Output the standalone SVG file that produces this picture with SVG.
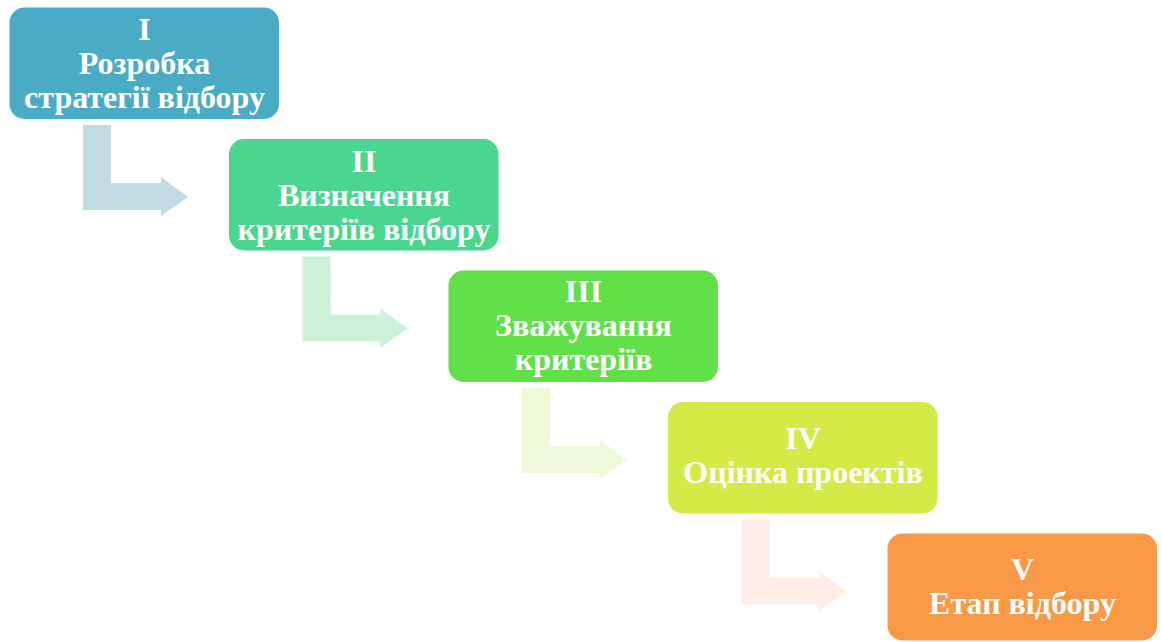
<svg xmlns="http://www.w3.org/2000/svg" width="1162" height="642" viewBox="0 0 1162 642">
<style>
.t{font-family:"Liberation Serif","Times New Roman",serif;font-weight:bold;font-size:32px;fill:#ffffff;text-anchor:middle}
</style>
<defs>
<path id="arr" d="M0,0 H28 V58 H78 V52 L105,72 L78,91 V85 H0 Z"/>
</defs>
<rect width="1162" height="642" fill="#ffffff"/>
<g id="connectors">
<use href="#arr" x="83" y="125" fill="#c1dbe3"/>
<use href="#arr" x="302.5" y="256.5" fill="#cdf0d9"/>
<use href="#arr" x="522" y="388" fill="#eff9da"/>
<use href="#arr" x="741.5" y="519.5" fill="#fcede6"/>
</g>
<g id="node1">
<rect x="9.5" y="7.5" width="269.5" height="111.5" rx="15" fill="#4aabc5"/>
<text class="t" x="144.5" y="40">I</text>
<text class="t" x="144.5" y="74">Розробка</text>
<text class="t" x="144.5" y="108">стратегії відбору</text>
</g>
<g id="node2">
<rect x="229" y="139" width="269.5" height="111.5" rx="15" fill="#4ad68f"/>
<text class="t" x="364" y="171.5">II</text>
<text class="t" x="364" y="205.5">Визначення</text>
<text class="t" x="364" y="239.5">критеріїв відбору</text>
</g>
<g id="node3">
<rect x="448.5" y="270.5" width="269.5" height="111.5" rx="15" fill="#62e04a"/>
<text class="t" x="583.5" y="302">III</text>
<text class="t" x="583.5" y="336">Зважування</text>
<text class="t" x="583.5" y="370">критеріїв</text>
</g>
<g id="node4">
<rect x="668" y="402" width="269.5" height="111.5" rx="15" fill="#d4ea46"/>
<text class="t" x="803" y="449">IV</text>
<text class="t" x="803" y="483">Оцінка проектів</text>
</g>
<g id="node5">
<rect x="887.5" y="533.5" width="269.5" height="107" rx="15" fill="#f79946"/>
<text class="t" x="1022.5" y="580">V</text>
<text class="t" x="1022.5" y="614">Етап відбору</text>
</g>
</svg>
